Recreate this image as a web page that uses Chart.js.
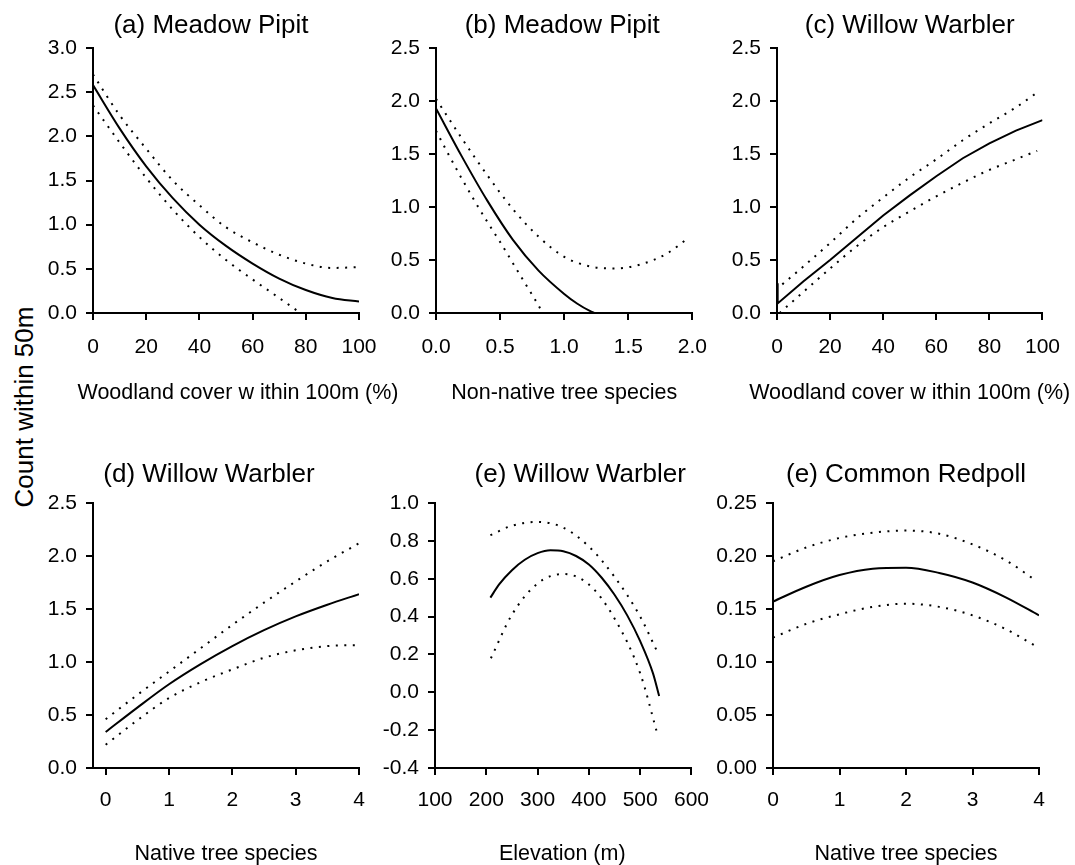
<!DOCTYPE html>
<html>
<head>
<meta charset="utf-8">
<script src="https://cdn.jsdelivr.net/npm/chart.js@4"></script>
<style>
  body { margin: 0; background: #fff; }
  #wrap { position: relative; width: 1075px; height: 865px; overflow: hidden; }
  canvas { position: absolute; }
  #ytitle {
    position: absolute; left: -128px; top: 394px; width: 300px; height: 26px;
    line-height: 26px; text-align: center; color: #000;
    font: 26px "Liberation Sans", Arial, sans-serif;
    transform: rotate(-90deg);
  }
</style>
</head>
<body>
<div id="wrap">
  <div id="ytitle">Count within 50m</div>
  <canvas id="pa"></canvas>
  <canvas id="pb"></canvas>
  <canvas id="pc"></canvas>
  <canvas id="pd"></canvas>
  <canvas id="pe"></canvas>
  <canvas id="pf"></canvas>
</div>
<script>
// (a) Meadow Pipit - woodland cover
const aX = [0, 10, 20, 30, 40, 50, 60, 70, 80, 90, 100];
const aFit = [2.58, 2.09, 1.66, 1.30, 1.00, 0.76, 0.56, 0.39, 0.26, 0.17, 0.13];
const aUpper = [2.70, 2.24, 1.86, 1.50, 1.22, 0.97, 0.80, 0.66, 0.56, 0.51, 0.52];
const aLowerX = [0, 10, 20, 30, 40, 50, 60, 70, 78];
const aLower = [2.35, 1.93, 1.53, 1.17, 0.86, 0.60, 0.38, 0.17, 0.0];
const aXTicks = [0, 20, 40, 60, 80, 100];
const aYTicks = [0, 0.5, 1.0, 1.5, 2.0, 2.5, 3.0];

// (b) Meadow Pipit - non-native tree species
const bFitX = [0, 0.2, 0.4, 0.6, 0.8, 1.0, 1.1, 1.2, 1.24];
const bFit = [1.93, 1.48, 1.06, 0.69, 0.40, 0.18, 0.09, 0.02, 0.0];
const bUpperX = [0, 0.2, 0.4, 0.6, 0.8, 1.0, 1.2, 1.4, 1.6, 1.8, 1.97];
const bUpper = [2.02, 1.65, 1.30, 0.98, 0.72, 0.53, 0.44, 0.42, 0.46, 0.56, 0.71];
const bLowerX = [0, 0.1, 0.2, 0.3, 0.4, 0.5, 0.6, 0.7, 0.8, 0.83];
const bLower = [1.72, 1.49, 1.27, 1.06, 0.86, 0.67, 0.47, 0.27, 0.07, 0.0];
const bXTicks = [0, 0.5, 1.0, 1.5, 2.0];
const bYTicks = [0, 0.5, 1.0, 1.5, 2.0, 2.5];

// (c) Willow Warbler - woodland cover
const cFitX = [0, 0.25, 10, 20, 30, 40, 50, 60, 70, 80, 90, 100];
const cFit = [0.28, 0.09, 0.30, 0.50, 0.71, 0.92, 1.11, 1.29, 1.46, 1.60, 1.72, 1.82];
const cUpperX = [2, 10, 20, 30, 40, 50, 60, 70, 80, 90, 98];
const cUpper = [0.27, 0.44, 0.66, 0.89, 1.09, 1.28, 1.45, 1.63, 1.79, 1.94, 2.08];
const cLowerX = [1, 10, 20, 30, 40, 50, 60, 70, 80, 90, 98];
const cLower = [0.0, 0.20, 0.42, 0.63, 0.81, 0.96, 1.10, 1.23, 1.35, 1.45, 1.53];
const cXTicks = [0, 20, 40, 60, 80, 100];
const cYTicks = [0, 0.5, 1.0, 1.5, 2.0, 2.5];

// (d) Willow Warbler - native tree species
const dX = [0, 0.5, 1, 1.5, 2, 2.5, 3, 3.5, 4];
const dFit = [0.34, 0.57, 0.79, 0.98, 1.15, 1.30, 1.43, 1.54, 1.64];
const dUpper = [0.46, 0.69, 0.91, 1.13, 1.35, 1.56, 1.76, 1.95, 2.12];
const dLower = [0.22, 0.45, 0.66, 0.81, 0.93, 1.04, 1.11, 1.15, 1.16];
const dXTicks = [0, 1, 2, 3, 4];
const dYTicks = [0, 0.5, 1.0, 1.5, 2.0, 2.5];

// (e) Willow Warbler - elevation
const eFitX = [208, 225, 250, 275, 300, 325, 350, 375, 400, 425, 450, 475, 500, 525, 537];
const eFit = [0.50, 0.57, 0.645, 0.70, 0.735, 0.75, 0.745, 0.72, 0.675, 0.605, 0.515, 0.405, 0.27, 0.10, -0.02];
const eUpperX = [208, 250, 300, 350, 400, 450, 500, 534];
const eUpper = [0.83, 0.88, 0.90, 0.87, 0.77, 0.61, 0.40, 0.21];
const eLowerX = [209, 250, 300, 350, 400, 450, 500, 534];
const eLower = [0.18, 0.41, 0.575, 0.625, 0.57, 0.39, 0.10, -0.225];
const eXTicks = [100, 200, 300, 400, 500, 600];
const eYTicks = [-0.4, -0.2, 0, 0.2, 0.4, 0.6, 0.8, 1.0];

// (e) Common Redpoll - native tree species
const fX = [0, 0.5, 1, 1.5, 2, 2.5, 3, 3.5, 4];
const fFit = [0.157, 0.171, 0.182, 0.188, 0.189, 0.184, 0.175, 0.161, 0.144];
const fCiX = [0, 0.5, 1, 1.5, 2, 2.5, 3, 3.5, 3.95];
const fUpper = [0.195, 0.208, 0.217, 0.222, 0.224, 0.221, 0.211, 0.196, 0.177];
const fLower = [0.123, 0.136, 0.145, 0.152, 0.155, 0.152, 0.144, 0.131, 0.115];
const fXTicks = [0, 1, 2, 3, 4];
const fYTicks = [0, 0.05, 0.10, 0.15, 0.20, 0.25];

const FONT = '"Liberation Sans", Arial, sans-serif';
const Y_W = 60;   // fixed width of y scale box
const X_H = 45;   // fixed height of x scale box

function xy(xs, ys) {
  return xs.map((x, i) => ({ x: x, y: ys[i] }));
}

function curve(points, dotted, straight) {
  return {
    data: points,
    borderColor: '#000',
    borderWidth: 2,
    borderDash: dotted ? [2, 6.5] : [],
    pointRadius: 0,
    fill: false,
    tension: 0,
    cubicInterpolationMode: straight ? 'default' : 'monotone'
  };
}

function axis(min, max, ticks, dec, pad, fit) {
  return {
    type: 'linear',
    min: min,
    max: max,
    afterBuildTicks: s => { s.ticks = ticks.map(v => ({ value: v })); },
    afterFit: fit,
    ticks: {
      color: '#000',
      font: { family: FONT, size: 21 },
      padding: pad,
      autoSkip: false,
      maxRotation: 0,
      callback: v => v.toFixed(dec)
    },
    grid: { drawOnChartArea: false, drawTicks: true, tickLength: 7, color: '#000', lineWidth: 2 },
    border: { display: true, color: '#000', width: 2 }
  };
}

// panel title and x-axis title, drawn relative to the chart area
const panelText = {
  id: 'panelText',
  afterDraw(chart, args, o) {
    const a = chart.chartArea, ctx = chart.ctx, mid = (a.left + a.right) / 2;
    ctx.save();
    ctx.fillStyle = '#000';
    ctx.textAlign = 'center';
    ctx.textBaseline = 'alphabetic';
    ctx.font = '26px ' + FONT;
    ctx.fillText(o.title, mid + o.titleDx, a.top - o.titleUp);
    ctx.font = '21.5px ' + FONT;
    ctx.fillText(o.xTitle, mid + o.xTitleDx, a.bottom + o.xTitleDown);
    ctx.restore();
  }
};

function makePanel(p) {
  const cv = document.getElementById(p.id);
  const [cl, ct, cw, ch] = p.cell;
  const [x0, y0, x1, y1] = p.area;
  cv.width = cw; cv.height = ch;
  cv.style.left = cl + 'px'; cv.style.top = ct + 'px';
  const row1 = ct === 0;
  new Chart(cv, {
    type: 'line',
    data: {
      datasets: [curve(p.fit, false, p.straightFit), curve(p.upper, true), curve(p.lower, true)]
    },
    options: {
      responsive: false,
      animation: false,
      layout: {
        padding: {
          left: x0 - cl - Y_W,
          top: y0 - ct,
          right: cl + cw - x1,
          bottom: ct + ch - y1 - X_H
        }
      },
      plugins: {
        legend: { display: false },
        tooltip: { enabled: false },
        panelText: {
          title: p.title, titleDx: p.titleDx, titleUp: row1 ? 15 : 21,
          xTitle: p.xTitle, xTitleDx: p.xTitleDx, xTitleDown: row1 ? 86 : 92
        }
      },
      scales: {
        x: axis(p.xr[0], p.xr[1], p.xTicks, p.xDec, row1 ? 15 : 13, s => { s.height = X_H; }),
        y: axis(p.yr[0], p.yr[1], p.yTicks, p.yDec, 9, s => { s.width = Y_W; })
      }
    },
    plugins: [panelText]
  });
}

makePanel({
  id: 'pa', cell: [0, 0, 405, 420], area: [93, 48, 359, 313],
  title: '(a) Meadow Pipit', titleDx: -15,
  xTitle: 'Woodland cover w ithin 100m (%)', xTitleDx: 12,
  xr: [0, 100], yr: [0, 3], xTicks: aXTicks, yTicks: aYTicks, xDec: 0, yDec: 1,
  fit: xy(aX, aFit), upper: xy(aX, aUpper), lower: xy(aLowerX, aLower)
});
makePanel({
  id: 'pb', cell: [372, 0, 350, 420], area: [436, 48, 701, 313],
  title: '(b) Meadow Pipit', titleDx: -2,
  xTitle: 'Non-native tree species', xTitleDx: 0,
  xr: [0, 2], yr: [0, 2.5], xTicks: bXTicks, yTicks: bYTicks, xDec: 1, yDec: 1,
  fit: xy(bFitX, bFit), upper: xy(bUpperX, bUpper), lower: xy(bLowerX, bLower)
});
makePanel({
  id: 'pc', cell: [712, 0, 363, 420], area: [777, 48, 1044, 313],
  title: '(c) Willow Warbler', titleDx: 0,
  xTitle: 'Woodland cover w ithin 100m (%)', xTitleDx: 0,
  xr: [0, 100], yr: [0, 2.5], xTicks: cXTicks, yTicks: cYTicks, xDec: 0, yDec: 1,
  fit: xy(cFitX, cFit), upper: xy(cUpperX, cUpper), lower: xy(cLowerX, cLower),
  straightFit: true
});
makePanel({
  id: 'pd', cell: [0, 420, 380, 445], area: [93, 503, 359, 768],
  title: '(d) Willow Warbler', titleDx: -17,
  xTitle: 'Native tree species', xTitleDx: 0,
  xr: [-0.2, 4], yr: [0, 2.5], xTicks: dXTicks, yTicks: dYTicks, xDec: 0, yDec: 1,
  fit: xy(dX, dFit), upper: xy(dX, dUpper), lower: xy(dX, dLower)
});
makePanel({
  id: 'pe', cell: [370, 420, 352, 445], area: [435, 503, 702, 768],
  title: '(e) Willow Warbler', titleDx: 17,
  xTitle: 'Elevation (m)', xTitleDx: -1,
  xr: [100, 600], yr: [-0.4, 1.0], xTicks: eXTicks, yTicks: eYTicks, xDec: 0, yDec: 1,
  fit: xy(eFitX, eFit), upper: xy(eUpperX, eUpper), lower: xy(eLowerX, eLower)
});
makePanel({
  id: 'pf', cell: [705, 420, 370, 445], area: [773, 503, 1039, 768],
  title: '(e) Common Redpoll', titleDx: 0,
  xTitle: 'Native tree species', xTitleDx: 0,
  xr: [0, 4], yr: [0, 0.25], xTicks: fXTicks, yTicks: fYTicks, xDec: 0, yDec: 2,
  fit: xy(fX, fFit), upper: xy(fCiX, fUpper), lower: xy(fCiX, fLower)
});
</script>
</body>
</html>
